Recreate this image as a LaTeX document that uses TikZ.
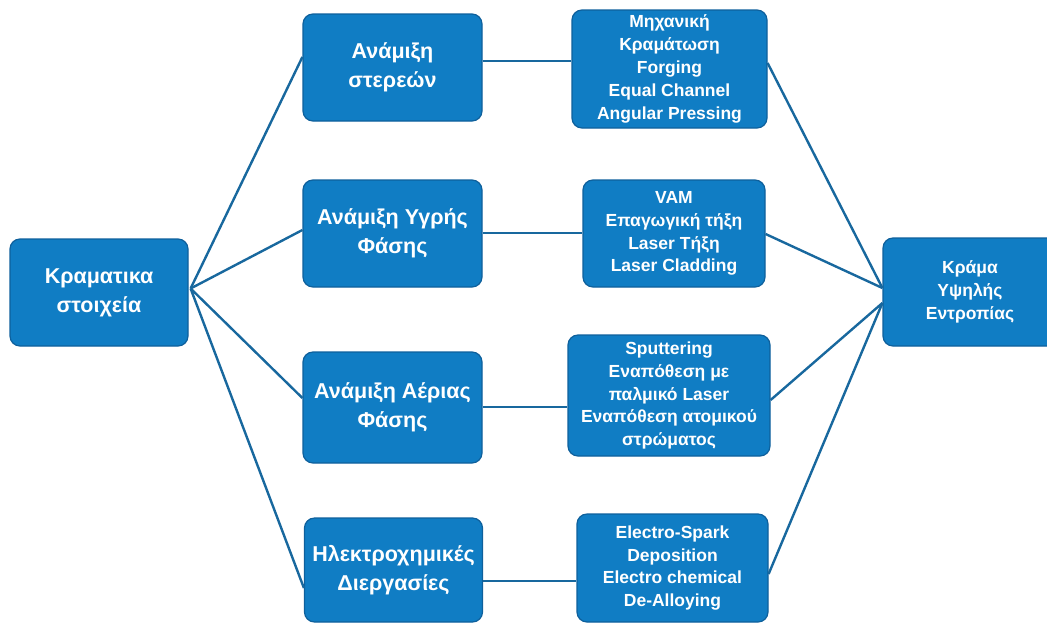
\documentclass[tikz,border=0pt]{standalone}
\usepackage{fontspec}
\setmainfont{Liberation Sans}
\definecolor{boxfill}{RGB}{16,125,196}
\definecolor{boxline}{RGB}{14,96,156}
\definecolor{conn}{RGB}{24,104,158}
\begin{document}
\begin{tikzpicture}[x=1pt,y=-1pt,
  box/.style={draw=boxline, line width=1.2pt, fill=boxfill, rounded corners=10pt,
    text=white, align=center, inner sep=0pt, font=\bfseries},
  big/.style={font=\fontsize{21.5}{29}\selectfont\bfseries},
  small/.style={font=\fontsize{17.5}{22.8}\selectfont\bfseries},
  conn/.style={draw=conn, line width=2.4pt}]
\useasboundingbox (0,0) rectangle (1047,625);
% left
\node[box,big,minimum width=178pt,minimum height=107pt] (L) at (99,292.5) {Κραματικα\\στοιχεία};
% column 2
\node[box,big,minimum width=179pt,minimum height=107pt] (A1) at (392.5,67.5) {Ανάμιξη\\στερεών};
\node[box,big,minimum width=179pt,minimum height=107pt] (A2) at (392.5,233.5) {Ανάμιξη Υγρής\\Φάσης};
\node[box,big,minimum width=179pt,minimum height=111pt] (A3) at (392.5,407.5) {Ανάμιξη Αέριας\\Φάσης};
\node[box,big,minimum width=178pt,minimum height=104pt] (A4) at (393.5,570) {Ηλεκτροχημικές\\Διεργασίες};
% column 3
\node[box,small,minimum width=195pt,minimum height=118pt] (B1) at (669.5,69) {Μηχανική\\Κραμάτωση\\Forging\\Equal Channel\\Angular Pressing};
\node[box,small,minimum width=182pt,minimum height=107pt] (B2) at (674,233.5) {VAM\\Επαγωγική τήξη\\Laser Τήξη\\Laser Cladding};
\node[box,small,minimum width=202pt,minimum height=121pt] (B3) at (669,395.5) {Sputtering\\Εναπόθεση με\\παλμικό Laser\\Εναπόθεση ατομικού\\στρώματος};
\node[box,small,minimum width=191pt,minimum height=108pt] (B4) at (672.5,568) {Electro-Spark\\Deposition\\Electro chemical\\De-Alloying};
% right
\node[box,small,minimum width=174pt,minimum height=108pt] (R) at (970,292) {Κράμα\\Υψηλής\\Εντροπίας};
% connectors
\coordinate (Lp) at ([xshift=2pt,yshift=4pt]L.east);
\draw[conn] (Lp) -- (A1.west |- 0,57);
\draw[conn] (Lp) -- (A2.west |- 0,230);
\draw[conn] (Lp) -- (A3.west |- 0,398);
\draw[conn] (Lp) -- (A4.west |- 0,588);
\draw[conn] (A1.east |- 0,61) -- (B1.west |- 0,61);
\draw[conn] (A2.east |- 0,233) -- (B2.west |- 0,233);
\draw[conn] (A3.east |- 0,407) -- (B3.west |- 0,407);
\draw[conn] (A4.east |- 0,581) -- (B4.west |- 0,581);
\draw[conn] (B1.east |- 0,63) -- (R.west |- 0,288);
\draw[conn] (B2.east |- 0,234) -- (R.west |- 0,288);
\draw[conn] (B3.east |- 0,400) -- (R.west |- 0,303);
\draw[conn] (B4.east |- 0,574) -- (R.west |- 0,303);
\end{tikzpicture}
\end{document}
